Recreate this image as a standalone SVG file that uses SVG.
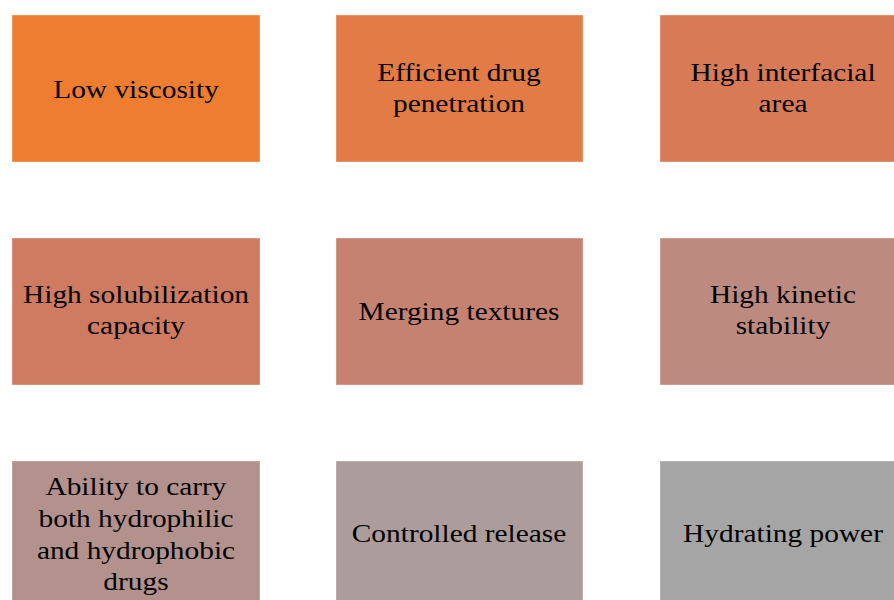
<svg xmlns="http://www.w3.org/2000/svg" width="894" height="600" viewBox="0 0 894 600">
  <style>
    .box { stroke: #ffffff; stroke-opacity: 0.35; stroke-width: 1; }
    .lbl { font-family: "Liberation Serif", "DejaVu Serif", serif; font-size: 26px; fill: #000000; text-anchor: middle; }
  </style>
  <rect width="894" height="600" fill="#ffffff"/>
  <g id="connectors"/>

  <!-- labels sit in a group centred on each box, widened slightly to a book-face proportion -->
  <g id="node-low-viscosity">
    <rect class="box" x="12" y="15" width="248" height="147" fill="#ED7D31"/>
    <g transform="translate(136 0) scale(1.13 1)">
      <text class="lbl" x="0" y="98">Low viscosity</text>
    </g>
  </g>
  <g id="node-drug-penetration">
    <rect class="box" x="336" y="15" width="247" height="147" fill="#E27B45"/>
    <g transform="translate(459 0) scale(1.13 1)">
      <text class="lbl" x="0" y="81">Efficient drug</text>
      <text class="lbl" x="0" y="112">penetration</text>
    </g>
  </g>
  <g id="node-interfacial-area">
    <rect class="box" x="660" y="15" width="240" height="147" fill="#D77A55"/>
    <g transform="translate(783 0) scale(1.13 1)">
      <text class="lbl" x="0" y="81">High interfacial</text>
      <text class="lbl" x="0" y="112">area</text>
    </g>
  </g>

  <g id="node-solubilization">
    <rect class="box" x="12" y="238" width="248" height="147" fill="#CF7B62"/>
    <g transform="translate(136 0) scale(1.13 1)">
      <text class="lbl" x="0" y="303">High solubilization</text>
      <text class="lbl" x="0" y="334">capacity</text>
    </g>
  </g>
  <g id="node-merging-textures">
    <rect class="box" x="336" y="238" width="247" height="147" fill="#C58270"/>
    <g transform="translate(459 0) scale(1.13 1)">
      <text class="lbl" x="0" y="320">Merging textures</text>
    </g>
  </g>
  <g id="node-kinetic-stability">
    <rect class="box" x="660" y="238" width="240" height="147" fill="#BD8A80"/>
    <g transform="translate(783 0) scale(1.13 1)">
      <text class="lbl" x="0" y="303">High kinetic</text>
      <text class="lbl" x="0" y="334">stability</text>
    </g>
  </g>

  <g id="node-hydrophilic-hydrophobic">
    <rect class="box" x="12" y="461" width="248" height="147" fill="#B3918D"/>
    <g transform="translate(136 0) scale(1.13 1)">
      <text class="lbl" x="0" y="495">Ability to carry</text>
      <text class="lbl" x="0" y="527">both hydrophilic</text>
      <text class="lbl" x="0" y="559">and hydrophobic</text>
      <text class="lbl" x="0" y="590">drugs</text>
    </g>
  </g>
  <g id="node-controlled-release">
    <rect class="box" x="336" y="461" width="247" height="147" fill="#AC9C9B"/>
    <g transform="translate(459 0) scale(1.13 1)">
      <text class="lbl" x="0" y="542">Controlled release</text>
    </g>
  </g>
  <g id="node-hydrating-power">
    <rect class="box" x="660" y="461" width="240" height="147" fill="#A5A5A5"/>
    <g transform="translate(783 0) scale(1.13 1)">
      <text class="lbl" x="0" y="542">Hydrating power</text>
    </g>
  </g>
</svg>
